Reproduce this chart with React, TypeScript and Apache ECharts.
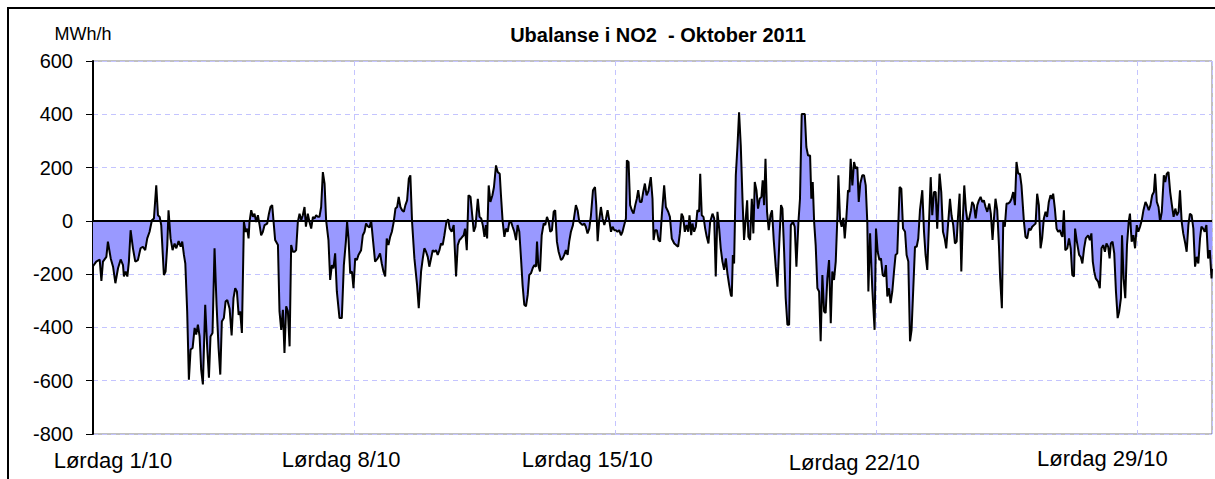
import React, { useEffect, useRef } from "react";
import * as echarts from "echarts";

const titleText = "Ubalanse i NO2  - Oktober 2011";
const unitText = "MWh/h";
const xLabels = ["Lørdag 1/10", "Lørdag 8/10", "Lørdag 15/10", "Lørdag 22/10", "Lørdag 29/10"];
const hoursPerWeek = 168;
const totalHours = 720;

// [hour since 1/10 00:00, MWh/h], week by week
const week1: [number, number][] = [
  [0,-170],[2.1,-153],[4.3,-145],[5.4,-225],[6.4,-153],[8.6,-135],[9.6,-78],[11.4,-141],[12.9,-172],[14.4,-234],[16.1,-178],[17.8,-145],[19.3,-166],[19.9,-209],[21,-190],[22.1,-209],[23.1,-153],[24.2,-35],[25.7,-103],[27.2,-153],[28.9,-147],[30.6,-103],[32.1,-97],[33.6,-110],[34.9,-66],[36.4,-41],[37.9,2],[39.2,9],[40.7,133],[41.8,21],[42.9,15],[43.9,-16],[45.6,-203],[46.7,-190],[47.8,-91],[48.6,40],[49.9,-66],[51.2,-110],[52.5,-85],[53.6,-103],[55.1,-76],[56.4,-97],[57.4,-78],[58.5,-128],[59.4,-160],[60.6,-340],[61.7,-596],[62.8,-483],[64.1,-477],[65.4,-402],[66.4,-427],[67.5,-390],[68.6,-434],[69.6,-558],[70.7,-614],[72.2,-315],[73.5,-477],[74.6,-589],[75.6,-434],[76.9,-421],[78.2,-103],[79.5,-315],[80.8,-477],[81.9,-577],[82.9,-378],[84.2,-365],[85.3,-303],[86.4,-297],[87.9,-330],[89.2,-430],[90.4,-290],[91.5,-253],[92.6,-265],[93.7,-353],[94.7,-340],[95.8,-421],[97.1,-4],[98.2,-41],[99.2,-29],[100.1,-66],[100.7,-4],[101.8,40],[102.9,15],[103.9,27],[105,-4],[106.1,21],[107.2,-16],[108.2,-54],[109.3,-41],[110.4,-16],[112.1,-10],[113.2,27],[114.2,52],[115.3,59],[116.2,-4],[117.2,-72],[119,-91],[120,-340],[121.1,-409],[122.2,-334],[123.2,-496],[124.3,-321],[125.4,-340],[126.5,-471],[127.5,-91],[128.6,-116],[129.7,-116],[130.7,-110],[131.8,-4],[132.9,27],[134,2],[135,21],[136.1,52],[137,-22],[138.2,27],[139.3,-4],[140.4,-29],[141.5,15],[142.5,9],[143.6,21],[144.7,15],[145.7,15],[146.8,52],[147.9,183],[149,140],[150,2],[151.5,-72],[152.6,-222],[153.7,-166],[154.7,-178],[155.8,-122],[156.9,-265],[158.6,-365],[160.1,-365],[161.4,-166],[162.7,-78],[163.5,-4],[164.4,-66],[165.5,-197],[166.6,-190],[167.6,-253]
];
const week2: [number, number][] = [
  [168.7,-141],[169.8,-147],[170.8,-128],[172.5,-110],[173.6,-54],[174.7,-41],[175.7,-10],[176.8,-20],[177.9,-25],[179,0],[180,-63],[181.5,-153],[183.2,-141],[184.7,-122],[185.8,-160],[186.9,-190],[188,-209],[189,-66],[190.1,-91],[191.2,-60],[192.3,-41],[193.5,-4],[194.6,46],[195.7,52],[196.7,90],[197.8,52],[198.9,40],[200,34],[201,59],[202.1,77],[203.2,158],[204.2,171],[205.3,-4],[206.8,-141],[208.5,-240],[209.6,-328],[211.1,-190],[212.2,-141],[213.2,-103],[214.3,-116],[215.4,-135],[216.4,-172],[217.5,-141],[218.6,-110],[219.6,-116],[220.7,-110],[221.8,-128],[222.9,-110],[223.9,-85],[225,-91],[226.1,-54],[227.4,-4],[228.5,6],[229.5,-29],[230.8,-41],[232.1,-16],[233.6,-209],[234.7,-91],[235.8,-72],[236.8,-66],[238.5,-54],[239.4,-29],[240.5,-110],[241.6,96],[242.9,90],[244,21],[245,-41],[246.1,-22],[247.6,83],[248.7,15],[249.8,9],[250.8,-16],[251.9,-60],[252.8,-16],[253.6,-66],[254.6,133],[255.7,71],[257,96],[258,127],[259.3,208],[260.4,183],[261.7,177],[262.5,96],[263.6,-4],[264.7,-60],[265.7,-29],[266.8,-41],[267.9,-5],[269,-4],[270,-22],[271.1,-41],[272.2,-72],[273.2,-16],[274.3,-41],[275.4,-141],[276.4,-240],[277.5,-315],[278.6,-321],[279.7,-278],[280.7,-203],[281.8,-197],[282.9,-178],[283.9,-166],[285,-172],[285.7,-78],[286.5,-166],[287.6,-190],[288.7,-54],[290,-10],[291,-16],[292.1,15],[293.2,-4],[294.2,-41],[295.3,-35],[296.4,34],[297.4,40],[298.5,-78],[299.6,-116],[301.1,-147],[302.2,-141],[303.2,-128],[304.3,-110],[305.4,-128],[306.4,-78],[307.5,-41],[308.8,-16],[309.6,15],[310.7,59],[311.8,40],[312.9,-4],[313.9,-10],[315,-16],[316.1,-10],[317.1,-22],[318.2,-47],[319.3,-29],[320.4,21],[321.7,115],[323,127],[323.8,59],[324.7,-76],[325.7,2],[326.8,52],[327.9,9],[329,-16],[330.1,9],[331.1,40],[332.2,2],[333.3,-41],[334.3,-22],[335.4,-35]
];
const week3: [number, number][] = [
  [336.4,-35],[337.5,-41],[338.6,-35],[339.7,-54],[340.7,-41],[341.8,-16],[342.9,9],[343.5,227],[344.6,221],[345.6,59],[346.7,40],[347.8,27],[348.9,59],[349.9,83],[350.8,115],[351.9,71],[353,71],[354,108],[355.1,140],[356.2,96],[357.4,112],[358.9,164],[360,83],[360.7,-72],[361.7,-35],[362.8,-35],[363.9,-72],[364.9,-78],[366,21],[367.5,133],[368.6,52],[370.1,34],[371.2,15],[372.4,-66],[374,-85],[375.2,-91],[376.5,-97],[377.6,-47],[378.7,27],[379.7,15],[380.8,-41],[381.9,-16],[383,-41],[383.8,21],[384.9,-54],[385.7,-10],[386.8,-41],[387.9,-22],[388.9,40],[390,34],[390.7,177],[391.7,21],[392.8,15],[393.9,-29],[394.9,-60],[396,-85],[397.1,-4],[398.6,27],[399.7,9],[400.7,-209],[401.8,34],[402.9,-29],[403.9,-103],[405,-153],[406.1,-184],[407.2,-141],[408.2,-197],[409.3,-240],[410.4,-278],[411,-284],[411.7,-128],[412.5,-160],[413.6,171],[414.7,283],[415.7,407],[416.8,283],[417.9,83],[418.9,-72],[420,9],[420.9,77],[421.7,-60],[422.8,-72],[423.9,83],[424.9,-47],[425.8,146],[426.9,115],[427.9,46],[429,83],[430.1,90],[430.9,152],[431.8,59],[432.7,233],[433.7,34],[434.8,-35],[435.9,21],[436.9,40],[438,-72],[439.3,-172],[440.4,-247],[441.7,-66],[442.7,59],[443.6,46],[444.7,-116],[445.7,-290],[446.8,-390],[447.9,-390],[449,-16],[450.4,-4],[451.5,-22],[452.6,-172],[453.9,-4],[454.9,83],[456,401],[458,401],[459,277],[460.1,245],[461.4,245],[462.2,83],[463.1,146],[464,-4],[465,-91],[466.1,-253],[467.2,-265],[468.2,-452],[469.3,-203],[470.4,-340],[471.4,-346],[472.5,-216],[473.6,-147],[474.7,-384],[475.7,-190],[476.8,-222],[477.9,-153],[479,21],[479.6,171],[480.7,2],[481.7,-22],[482.8,11],[483.7,-66],[484.7,9],[485.8,115],[486.7,108],[487.5,233],[488.6,133],[489.7,221],[490.7,196],[491.8,202],[492.7,71],[493.7,140],[495,171],[496.1,171],[497.2,133],[498.2,-4],[498.9,-265],[500,-47],[501.4,-253],[502.9,-409],[503.8,-29]
];
const week4: [number, number][] = [
  [504.9,-116],[506,-147],[507,-141],[508.1,-203],[509.2,-209],[510.2,-166],[511.1,-284],[512.2,-253],[513.2,-309],[514.3,-265],[515.4,-190],[516.4,-128],[517.5,-122],[519,127],[520.1,121],[521.2,-29],[522.5,-41],[523.5,-128],[524.6,-153],[525.7,-452],[526.7,-409],[527.8,-253],[528.9,-97],[530,-97],[531,-66],[532.1,40],[533.6,115],[534.7,-41],[535.7,-128],[536.8,-184],[539,164],[540,21],[541.1,108],[542.2,108],[543.2,-29],[544.7,177],[545.8,108],[546.9,-41],[548,-66],[549,-103],[550.3,-4],[551.4,83],[552.4,21],[553.5,-16],[554.6,-85],[555.7,-78],[556.5,9],[557.6,102],[558.7,-190],[559.7,9],[560.6,133],[561.7,40],[562.7,-4],[563.8,9],[564.9,40],[565.7,71],[566.8,59],[567.9,9],[569,59],[570,77],[571.1,90],[572.2,71],[573.2,77],[574.3,52],[575.4,34],[576.7,65],[577.7,27],[578.8,-72],[579.7,9],[580.7,83],[581.8,40],[582.9,-91],[583.7,-216],[584.8,-328],[585.7,2],[586.7,-22],[587.8,65],[588.9,65],[590,71],[591,83],[592.1,108],[593.2,59],[594.2,221],[595.3,177],[596.4,177],[597.4,133],[599,-4],[600,-60],[601.1,-66],[602.2,-29],[603.3,-35],[604.3,-22],[605.4,-16],[606.5,-10],[607.5,102],[608.6,59],[609.7,-103],[610.7,-66],[611.8,9],[612.9,34],[613.9,15],[615,71],[616.1,96],[617.2,83],[617.8,102],[618.9,46],[620,-29],[621,-41],[622.1,-35],[623.2,-54],[623.8,-60],[624.7,40],[625.6,-110],[626.9,-103],[628,-66],[629.1,-103],[630.1,-203],[631.2,-209],[631.9,-29],[632.9,-72],[634.5,-128],[635.5,-135],[636.6,-160],[637.7,-103],[638.8,-66],[640.3,-54],[641.4,-72],[642.4,-47],[643.3,-153],[644.2,-190],[645.2,-216],[646.7,-228],[647.8,-253],[648.9,-103],[650,-91],[651.1,-116],[652.1,-85],[653.2,-97],[654.1,-141],[654.9,-85],[656,-78],[657.1,-122],[658.2,-265],[659.3,-365],[660.3,-340],[661.4,-290],[662.1,-54],[663.1,-216],[664.2,-290],[665.3,-91],[666.4,-4],[667.2,27],[668.3,-78],[669.4,-54],[670.5,-103],[671.6,-16]
];
const week5: [number, number][] = [
  [672.6,-41],[673.7,-22],[674.8,2],[675.9,40],[677.2,71],[678.2,59],[679.3,40],[680.4,59],[681.5,96],[682.6,108],[683.4,177],[684.5,71],[685.6,52],[686.6,-4],[687.7,34],[689,171],[689.9,146],[690.9,177],[692,183],[693.1,108],[694.2,59],[695.3,15],[696.4,46],[697.4,21],[698.5,34],[699.4,115],[700.5,-4],[701.5,-47],[702.8,-85],[703.7,-116],[704.8,-16],[705.8,27],[706.9,21],[708,-29],[709.1,-172],[710.2,-135],[711.2,-160],[712.3,-66],[713.2,-22],[714.3,-29],[715.3,-41],[716.4,-16],[717.5,-141],[718.6,-110],[719.7,-216],[720,-180]
];

const FONT = "'Liberation Sans', Arial, sans-serif";

export default function App() {
  const ref = useRef<HTMLDivElement>(null);
  useEffect(() => {
    if (!ref.current) return;
    const chart = echarts.init(ref.current, undefined, { renderer: "svg" });
    const data = [...week1, ...week2, ...week3, ...week4, ...week5];
    const labelShift = [
      { padding: [2, 0, 0, 40] },
      { padding: [1, 26, 0, 0] },
      { padding: [1, 56, 0, 0] },
      { padding: [4, 44, 0, 0] },
      { padding: [0, 70, 0, 0] },
    ];
    const rich: any = {};
    labelShift.forEach((s, i) => {
      rich["w" + i] = { ...s, fontSize: 22, fontFamily: FONT, color: "#000" };
    });
    chart.setOption({
      animation: false,
      backgroundColor: "#fff",
      title: {
        text: titleText,
        left: 658,
        top: 25,
        padding: 0,
        textAlign: "center",
        textStyle: { fontFamily: FONT, fontSize: 20, fontWeight: "bold", color: "#000" },
      },
      grid: {
        left: 93,
        right: 3,
        top: 61,
        bottom: 45,
        show: true,
        borderColor: "#808080",
        borderWidth: 1,
        backgroundColor: "#fff",
      },
      xAxis: {
        type: "value",
        min: 0,
        max: totalHours,
        interval: hoursPerWeek,
        axisLine: { show: false },
        axisTick: { show: false },
        splitLine: { show: true, lineStyle: { color: "#c4c4ff", type: [5, 4], width: 1 } },
        axisLabel: {
          showMaxLabel: false,
          margin: 13,
          fontSize: 22,
          fontFamily: FONT,
          color: "#000",
          formatter: (v: number) => {
            const i = Math.round(v / hoursPerWeek);
            return xLabels[i] ? `{w${i}|${xLabels[i]}}` : "";
          },
          rich,
        },
      },
      yAxis: {
        type: "value",
        min: -800,
        max: 600,
        interval: 200,
        name: unitText,
        nameLocation: "end",
        nameGap: 18,
        nameTextStyle: { fontFamily: FONT, fontSize: 18, color: "#000", padding: [0, 20, 0, 0] },
        axisLine: { show: true, lineStyle: { color: "#000", width: 2 } },
        axisTick: { show: true, inside: false, length: 7, lineStyle: { color: "#000", width: 1 } },
        axisLabel: { margin: 20, fontSize: 20, fontFamily: FONT, color: "#000" },
        splitLine: { show: true, lineStyle: { color: "#c4c4ff", type: [5, 4], width: 1 } },
      },
      series: [
        {
          type: "line",
          data,
          showSymbol: false,
          symbol: "none",
          lineStyle: { color: "#000", width: 2 },
          itemStyle: { color: "#000" },
          areaStyle: { color: "#9999ff", opacity: 1 },
          markLine: {
            silent: true,
            symbol: ["none", "none"],
            label: { show: false },
            lineStyle: { color: "#000", width: 2, type: "solid" },
            data: [{ yAxis: 0 }],
          },
        },
      ],
      graphic: [
        {
          type: "rect",
          shape: { x: 8, y: 8, width: 1300, height: 600 },
          style: { fill: "none", stroke: "#000", lineWidth: 2 },
          silent: true,
          z: 100,
        },
      ],
    });
    return () => chart.dispose();
  }, []);
  return <div ref={ref} style={{ position: "absolute", left: 0, top: 0, width: 1215, height: 479 }} />;
}
